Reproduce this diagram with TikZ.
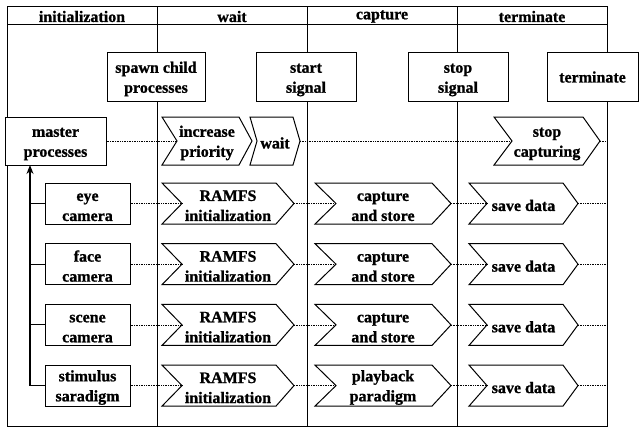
\documentclass[tikz,border=0pt]{standalone}
\usepackage{fontspec}
\setmainfont{Liberation Serif}
\newfontfamily\dfont{Liberation Serif}[FakeBold=1]
\usetikzlibrary{arrows.meta,calc}
\newcommand\tl{\rule{0pt}{15pt}}
\tikzset{
  frameline/.style={line width=1pt},
  box/.style={draw, fill=white, line width=1pt, inner sep=0pt, align=center,
    font=\dfont\bfseries\fontsize{16}{20}\selectfont},
  txt/.style={inner sep=0pt, align=center, font=\dfont\bfseries\fontsize{16}{20}\selectfont},
  chevline/.style={draw, fill=white, line width=1pt, line join=miter},
  dots/.style={densely dotted, line width=0.7pt},
  treeline/.style={line width=1pt},
}
\newcommand\mychev[8]{%
  \pgfmathsetmacro\cym{(#6+#7)/2}%
  \pgfmathsetmacro\cxm{(#2+#5)/2}%
  \draw[chevline] (#2,#6) -- (#4,#6) -- (#5,\cym) -- (#4,#7) -- (#2,#7) -- (#3,\cym) -- cycle;
  \node[txt] (#1) at (\cxm,\cym) {\tl#8};
  \coordinate (#1-in) at (#3,\cym);
  \coordinate (#1-out) at (#5,\cym);
}
\begin{document}
\begin{tikzpicture}[x=1pt,y=-1pt]
\useasboundingbox (0,0) rectangle (639,428);
\fill[white] (0,0) rectangle (639,428);
% frame and lanes
\draw[frameline] (7,7) rectangle (607,426);
\draw[frameline] (7,25) -- (607,25);
\foreach \x in {157,307,457} \draw[frameline] (\x,7) -- (\x,426);
% headers
\node[txt] (h1) at (82,16.5) {initialization};
\node[txt] (h2) at (232,16.5) {wait};
\node[txt] (h3) at (382,16.5) {capture};
\node[txt] (h4) at (532,16.5) {terminate};
% top boxes
\node[box, minimum width=98pt, minimum height=48pt] (spawn) at (156,77) {\tl spawn child\\processes};
\node[box, minimum width=100pt, minimum height=48pt] (start) at (306,77) {\tl start\\signal};
\node[box, minimum width=100pt, minimum height=48pt] (stop) at (458,77) {\tl stop\\signal};
\node[box, minimum width=91pt, minimum height=48pt] (term) at (592.5,77) {terminate};
% master row
\node[box, minimum width=101pt, minimum height=48pt] (master) at (55.5,141) {\tl master\\processes};
\mychev{inc}{162}{177}{239}{252}{117}{165}{increase\\priority}
\mychev{wt}{250}{257}{293}{300}{117}{165}{wait}
\mychev{stc}{494}{512}{583}{600}{117}{165}{stop\\capturing}
\coordinate (m-end) at (607,141);
\draw[dots] (master.east) -- (inc-in);
\draw[dots] (wt-out) -- (stc-in);
\draw[dots] (stc-out) -- (m-end);
% child rows
\foreach \n/\y/\lab/\cap in {eye/203.5/{eye\\camera}/{capture\\and store},
  face/264.2/{face\\camera}/{capture\\and store},
  scene/324.9/{scene\\camera}/{capture\\and store},
  stim/385.6/{stimulus\\saradigm}/{playback\\paradigm}}{
  \node[box, minimum width=85pt, minimum height=41pt] (\n) at (87.5,\y) {\tl\lab};
  \pgfmathsetmacro\yt{\y-20.5}
  \pgfmathsetmacro\yb{\y+20.5}
  \mychev{\n-ram}{162}{182}{276}{294}{\yt}{\yb}{RAMFS\\initialization}
  \mychev{\n-cap}{315}{336}{432}{451}{\yt}{\yb}{\cap}
  \mychev{\n-sav}{469}{487}{563}{578}{\yt}{\yb}{save data}
  \coordinate (\n-end) at (607,\y);
  \draw[dots] (\n.east) -- (\n-ram-in);
  \draw[dots] (\n-ram-out) -- (\n-cap-in);
  \draw[dots] (\n-cap-out) -- (\n-sav-in);
  \draw[dots] (\n-sav-out) -- (\n-end);
}
% tree
\coordinate (ma) at (30,165);
\draw[treeline] (eye.west) -- (eye.west -| ma);
\draw[treeline] (face.west) -- (face.west -| ma);
\draw[treeline] (scene.west) -- (scene.west -| ma);
\draw[line width=1.3pt, -{Stealth[length=9pt,width=7pt]}] (stim.west) -| (ma);
\end{tikzpicture}
\end{document}
